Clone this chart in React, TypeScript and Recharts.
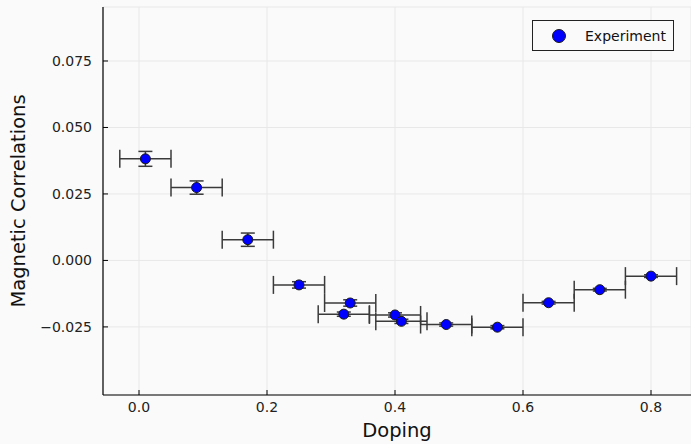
import React from "react";
import {
  ScatterChart,
  Scatter,
  XAxis,
  YAxis,
  CartesianGrid,
  ErrorBar,
  Legend,
  Label,
} from "recharts";

const doping = [0.01, 0.09, 0.17, 0.25, 0.33, 0.32, 0.40, 0.41, 0.48, 0.56, 0.64, 0.72, 0.80];
const correlations = [0.0382, 0.0274, 0.0078, -0.0092, -0.0160, -0.0202, -0.0205, -0.0229, -0.0241, -0.0251, -0.0159, -0.0110, -0.0059];
const dopingErr = [0.04, 0.04, 0.04, 0.04, 0.04, 0.04, 0.04, 0.04, 0.04, 0.04, 0.04, 0.04, 0.04];
const correlationErr = [0.0028, 0.0025, 0.0025, 0.0012, 0.0012, 0.0008, 0.0008, 0.0008, 0.0006, 0.0006, 0.0005, 0.0005, 0.0005];
const xTicks = [0, 0.2, 0.4, 0.6, 0.8];
const yTicks = [-0.025, 0, 0.025, 0.05, 0.075];
const seriesName = "Experiment";

const data = doping.map((d, i) => ({
  x: d,
  y: correlations[i],
  xerr: dopingErr[i],
  yerr: correlationErr[i],
}));

const FONT = "DejaVu Sans";

const fmtY = (v: number) => {
  const s = Math.abs(v).toFixed(3);
  return v < 0 ? "\u2212" + s : s;
};
const fmtX = (v: number) => v.toFixed(1);

const Dot = (props: any) => (
  <circle cx={props.cx} cy={props.cy} r={5} fill="#0000ff" stroke="#1a1a1a" strokeWidth={1} />
);

const LegendBox = () => (
  <div
    style={{
      width: 140,
      height: 29,
      border: "1px solid #222",
      background: "#fafafa",
      display: "flex",
      alignItems: "center",
      fontFamily: FONT,
      fontSize: 14,
      color: "#111",
      boxSizing: "content-box",
    }}
  >
    <svg width={52} height={29} style={{ display: "block" }}>
      <circle cx={26} cy={15} r={6.5} fill="#0000ff" stroke="#1a1a1a" strokeWidth={1} />
    </svg>
    <span>{seriesName}</span>
  </div>
);

export default function App() {
  return (
    <div style={{ position: "absolute", left: 0, top: 0, width: 691, height: 444, background: "#fafafa" }}>
      <ScatterChart width={691} height={444} margin={{ top: 7, right: 0, bottom: 19, left: 43 }}>
        <CartesianGrid stroke="#e8e8e8" strokeWidth={1} />
        <XAxis
          type="number"
          dataKey="x"
          domain={[-0.05625, 0.8625]}
          allowDataOverflow
          ticks={xTicks}
          tickFormatter={fmtX}
          height={30}
          tickSize={-5}
          tickMargin={12}
          axisLine={{ stroke: "#000", strokeWidth: 1.2 }}
          tickLine={{ stroke: "#000", strokeWidth: 1 }}
          tick={{ fill: "#222", fontSize: 14, fontFamily: FONT }}
        >
          <Label
            content={(p: any) => {
              const vb = p.viewBox;
              return (
                <text x={vb.x + vb.width / 2} y={437} textAnchor="middle" fontFamily={FONT} fontSize={19.5} fill="#111">
                  Doping
                </text>
              );
            }}
          />
        </XAxis>
        <YAxis
          type="number"
          dataKey="y"
          domain={[-0.0506, 0.0953]}
          allowDataOverflow
          ticks={yTicks}
          tickFormatter={fmtY}
          width={60}
          tickSize={-5}
          tickMargin={16}
          axisLine={{ stroke: "#000", strokeWidth: 1.2 }}
          tickLine={{ stroke: "#000", strokeWidth: 1 }}
          tick={{ fill: "#222", fontSize: 14, fontFamily: FONT }}
        >
          <Label
            content={(p: any) => {
              const vb = p.viewBox;
              const cy = vb.y + vb.height / 2;
              return (
                <text
                  x={25}
                  y={cy}
                  transform={`rotate(-90, 25, ${cy})`}
                  textAnchor="middle"
                  fontFamily={FONT}
                  fontSize={19.5}
                  fill="#111"
                >
                  Magnetic Correlations
                </text>
              );
            }}
          />
        </YAxis>
        <Legend
          layout="vertical"
          align="center"
          verticalAlign="middle"
          content={() => <LegendBox />}
          wrapperStyle={{ position: "absolute", left: 532, top: 20, width: 142 }}
        />
        <Scatter name={seriesName} data={data} shape={Dot} isAnimationActive={false}>
          <ErrorBar dataKey="xerr" direction="x" width={9} stroke="#3a3a3a" strokeWidth={1.5} />
          <ErrorBar dataKey="yerr" direction="y" width={7} stroke="#3a3a3a" strokeWidth={1.5} />
        </Scatter>
      </ScatterChart>
    </div>
  );
}
